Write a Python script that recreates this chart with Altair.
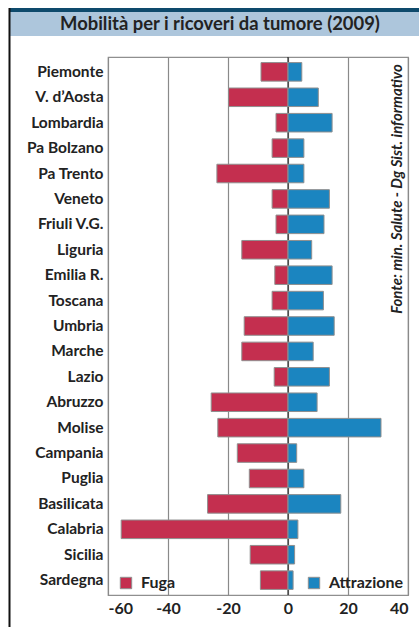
import altair as alt
import pandas as pd

regions = ["Piemonte", "V. d\u2019Aosta", "Lombardia", "Pa Bolzano", "Pa Trento", "Veneto",
           "Friuli V.G.", "Liguria", "Emilia R.", "Toscana", "Umbria", "Marche", "Lazio",
           "Abruzzo", "Molise", "Campania", "Puglia", "Basilicata", "Calabria", "Sicilia", "Sardegna"]
fuga = [-9.0, -19.8, -4.0, -5.3, -23.7, -5.3, -4.0, -15.4, -4.4, -5.3, -14.6, -15.4, -4.6,
        -25.6, -23.4, -16.9, -12.9, -26.8, -55.6, -12.6, -9.2]
attrazione = [4.6, 10.1, 14.7, 5.3, 5.3, 13.8, 12.0, 7.9, 14.7, 11.8, 15.4, 8.4, 13.8,
              9.7, 31.0, 2.9, 5.3, 17.6, 3.3, 2.2, 1.7]
series = ["Fuga", "Attrazione"]
x_ticks = [-60, -40, -20, 0, 20, 40]
title_text = "Mobilit\u00e0 per i ricoveri da tumore (2009)"
source_text = "Fonte: min. Salute - Dg Sist. informativo"

rows = []
for r, f, a in zip(regions, fuga, attrazione):
    rows.append({"regione": r, "serie": series[0], "valore": f})
    rows.append({"regione": r, "serie": series[1], "valore": a})
df = pd.DataFrame(rows)

FONT = "Lato"
W, H = 300, 538
PL, PT = 108, 57

x_enc = alt.X("valore:Q", scale=alt.Scale(domain=[-60, 40], nice=False, zero=False),
              axis=alt.Axis(values=x_ticks, title=None, ticks=False, domain=False,
                            labelExpr="'' + datum.value",
                            labelFont=FONT, labelFontWeight="bold", labelFontSize=16,
                            labelColor="#222222", labelPadding=5, grid=True,
                            gridColor="#8a8a8a", gridWidth=1.2))
y_enc = alt.Y("regione:N", sort=regions,
              scale=alt.Scale(paddingInner=0.27, paddingOuter=0.22),
              axis=alt.Axis(title=None, ticks=False, domain=False, labelFont=FONT,
                            labelFontWeight="bold", labelFontSize=15.5, labelColor="#222222",
                            labelPadding=5))

bars = alt.Chart(df).mark_bar(stroke="#8f8f8f", strokeWidth=1).encode(
    x=x_enc,
    y=y_enc,
    color=alt.Color("serie:N", scale=alt.Scale(domain=series, range=["#c42f4f", "#1b85c0"]),
                    legend=alt.Legend(title=None, orient="none", legendX=10, legendY=518,
                                      direction="horizontal", symbolType="square",
                                      symbolSize=130, symbolStrokeColor="#8f8f8f",
                                      symbolStrokeWidth=1, labelFont=FONT,
                                      labelFontWeight="bold", labelFontSize=16,
                                      labelColor="#222222", columnPadding=130,
                                      labelOffset=7, padding=0, symbolOpacity=1)),
)

zero = alt.Chart(pd.DataFrame({"z": [0]})).mark_rule(color="#111111", strokeWidth=1).encode(
    x=alt.X("z:Q", scale=alt.Scale(domain=[-60, 40], nice=False, zero=False))
)

band_dark = alt.Chart(pd.DataFrame({"a": [1]})).mark_rect(color="#0e4a6c").encode(
    x=alt.value(-PL + 10), x2=alt.value(419 - PL), y=alt.value(8 - PT), y2=alt.value(12 - PT))
band_light = alt.Chart(pd.DataFrame({"a": [1]})).mark_rect(color="#adc6dc").encode(
    x=alt.value(-PL + 10), x2=alt.value(419 - PL), y=alt.value(12 - PT), y2=alt.value(36 - PT))
left_line = alt.Chart(pd.DataFrame({"a": [1]})).mark_rule(color="#111111", strokeWidth=2).encode(
    x=alt.value(-PL + 9.5), y=alt.value(8 - PT), y2=alt.value(627 - PT))

title = alt.Chart(pd.DataFrame({"t": [title_text]})).mark_text(
    font=FONT, fontWeight="bold", fontSize=18.4, color="#222222", align="center", baseline="middle"
).encode(x=alt.value(220 - PL), y=alt.value(23.5 - PT), text="t:N")

source = alt.Chart(pd.DataFrame({"t": [source_text]})).mark_text(
    font=FONT, fontWeight="bold", fontStyle="italic", fontSize=15, color="#222222",
    align="center", baseline="middle", angle=270
).encode(x=alt.value(397 - PL), y=alt.value(189 - PT), text="t:N")

chart = alt.layer(band_dark, band_light, left_line, title, zero, bars, source).properties(
    width=W, height=H,
    autosize=alt.AutoSizeParams(type="none"),
    padding={"left": PL, "top": PT, "right": 419 - PL - W, "bottom": 627 - PT - H},
    background="white",
).configure_view(stroke="#8f8f8f", strokeWidth=1.2)

chart.save("out.html", embed_options={"renderer": "svg", "actions": False})
